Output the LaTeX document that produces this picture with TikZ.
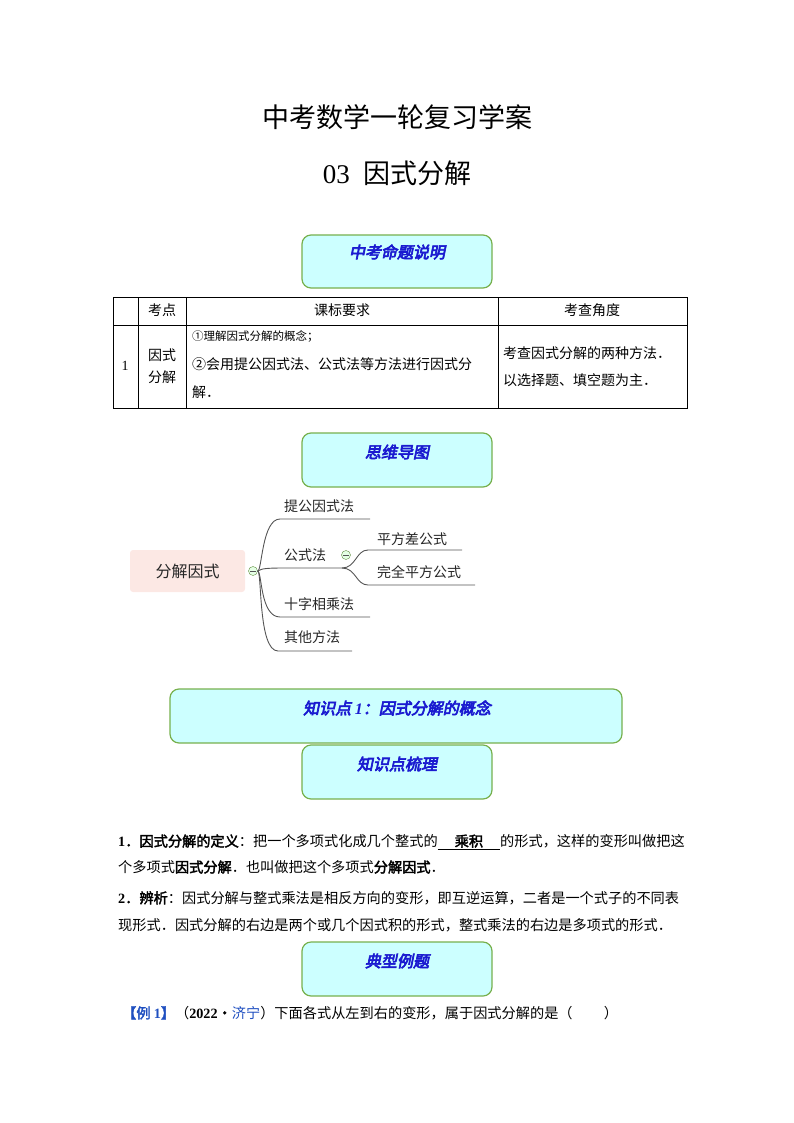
\documentclass[tikz,border=0pt]{standalone}
\usepackage{fontspec}
\setmainfont{Noto Sans CJK SC}[AutoFakeBold=2.5]
\newfontfamily\headfont{Noto Sans CJK SC}[AutoFakeBold=4,AutoFakeSlant=0.2]
\newfontfamily\lat{Liberation Serif}
\definecolor{boxfill}{HTML}{CCFFFF}
\definecolor{boxline}{HTML}{77B04D}
\definecolor{headblue}{HTML}{1A1AD0}
\definecolor{rootfill}{HTML}{FCE8E4}
\definecolor{mmline}{HTML}{555555}
\definecolor{exblue}{HTML}{1F4FC0}
\begin{document}
\begin{tikzpicture}[x=1pt,y=-1pt,
  headbox/.style={draw=boxline,line width=1.2pt,fill=boxfill,rounded corners=9pt},
  headtxt/.style={text=headblue,font=\fontsize{16}{16}\headfont\bfseries\itshape},
  cell/.style={font=\fontsize{14}{16}\selectfont,inner sep=0pt},
  mm/.style={font=\fontsize{14}{14}\selectfont,text=black!85,inner sep=0pt},
  mmln/.style={mmline,line width=0.9pt},
  body/.style={font=\fontsize{14.2}{14}\selectfont,anchor=west,inner sep=0pt}]
\useasboundingbox (0,0) rectangle (794,1123);
% title
\node (t1) at (397,117) {\fontsize{27}{27}\selectfont 中考数学一轮复习学案};
\node (t2) at (397,173) {\fontsize{27}{27}\selectfont {\lat 03}\hspace{0.5em}因式分解};
% heading boxes
\draw[headbox] (302,235) rectangle (492,288);
\node[headtxt] (h1) at (397,252) {中考命题说明};
\draw[headbox] (302,433) rectangle (492,487);
\node[headtxt] (h2) at (397,452) {思维导图};
\draw[headbox] (170,689) rectangle (622,743);
\node[headtxt] (h3) at (397,708) {知识点 {\lat 1}：因式分解的概念};
\draw[headbox] (302,745) rectangle (492,799);
\node[headtxt] (h4) at (397,764) {知识点梳理};
\draw[headbox] (302,942) rectangle (492,996);
\node[headtxt] (h5) at (397,961) {典型例题};
% table
\draw[line width=0.6pt] (113,297) rectangle (687,408);
\draw[line width=0.6pt] (113,325) -- (687,325);
\foreach \x in {138,186,498} \draw[line width=0.6pt] (\x,297) -- (\x,408);
\node[cell] (c1) at (162,310) {考点};
\node[cell] (c2) at (342,310) {课标要求};
\node[cell] (c3) at (592,310) {考查角度};
\node[cell] (c4) at (125,366) {\lat 1};
\node[cell,align=center] (c5) at (162,366) {因式\\[6pt]分解};
\node[cell,anchor=west,font=\fontsize{11.5}{11}\selectfont] (c6) at (192,336) {①理解因式分解的概念；};
\node[cell,anchor=west] (c7) at (192,364) {②会用提公因式法、公式法等方法进行因式分};
\node[cell,anchor=west] (c8) at (192,392) {解．};
\node[cell,anchor=west] (c9) at (503,353) {考查因式分解的两种方法．};
\node[cell,anchor=west] (c10) at (503,380) {以选择题、填空题为主．};
% mind map
\node[fill=rootfill,rounded corners=3pt,minimum width=115pt,minimum height=42pt,mm,font=\fontsize{16}{16}\selectfont] (root) at (187.5,571) {分解因式};
\node[circle,draw=boxline!80!black,fill=green!10,minimum size=9pt,inner sep=0pt] (k1) at (253,571) {};
\draw[mmln] (k1.center) ++(-3,0) -- ++(6,0);
\coordinate (g1) at (370,519);
\coordinate (g2) at (342,568);
\coordinate (g3) at (370,617);
\coordinate (g4) at (352,651);
\draw[mmln] (k1.east) .. controls (262,571) and (262,519) .. (280,519) -- (g1);
\draw[mmln] (k1.east) .. controls (262,568) and (270,568) .. (290,568) -- (g2);
\draw[mmln] (k1.east) .. controls (262,571) and (260,617) .. (280,617) -- (g3);
\draw[mmln] (k1.east) .. controls (262,571) and (258,651) .. (278,651) -- (g4);
\node[circle,draw=boxline!80!black,fill=green!10,minimum size=9pt,inner sep=0pt] (k2) at (346,555) {};
\draw[mmln] (k2.center) ++(-3,0) -- ++(6,0);
\coordinate (g5) at (462,550);
\coordinate (g6) at (475,585);
\draw[mmln] (g2) .. controls (356,568) and (356,550) .. (368,550) -- (g5);
\draw[mmln] (g2) .. controls (356,568) and (356,585) .. (368,585) -- (g6);
\node[mm,anchor=west] (b1) at (284,506) {提公因式法};
\node[mm,anchor=west] (b2) at (284,555) {公式法};
\node[mm,anchor=west] (b3) at (377,539) {平方差公式};
\node[mm,anchor=west] (b4) at (377,572) {完全平方公式};
\node[mm,anchor=west] (b5) at (284,604) {十字相乘法};
\node[mm,anchor=west] (b6) at (284,637) {其他方法};
% body text
\node[body] (p1) at (118,842) {{\bfseries {\lat 1}．因式分解的定义}：把一个多项式化成几个整式的\underline{\hspace{1.2em}\bfseries 乘积\hspace{1.2em}}的形式，这样的变形叫做把这};
\node[body] (p2) at (118,867) {个多项式{\bfseries 因式分解}．也叫做把这个多项式{\bfseries 分解因式}．};
\node[body] (p3) at (118,898) {{\bfseries {\lat 2}．辨析}：因式分解与整式乘法是相反方向的变形，即互逆运算，二者是一个式子的不同表};
\node[body] (p4) at (118,925) {现形式．因式分解的右边是两个或几个因式积的形式，整式乘法的右边是多项式的形式．};
\node[body] (p5) at (122,1013) {{\color{exblue}\bfseries 【例 {\lat 1}】}（{\lat\bfseries 2022}{\bfseries•}{\color{exblue}济宁}）下面各式从左到右的变形，属于因式分解的是（\hspace{2.2em}）};
\end{tikzpicture}
\end{document}
